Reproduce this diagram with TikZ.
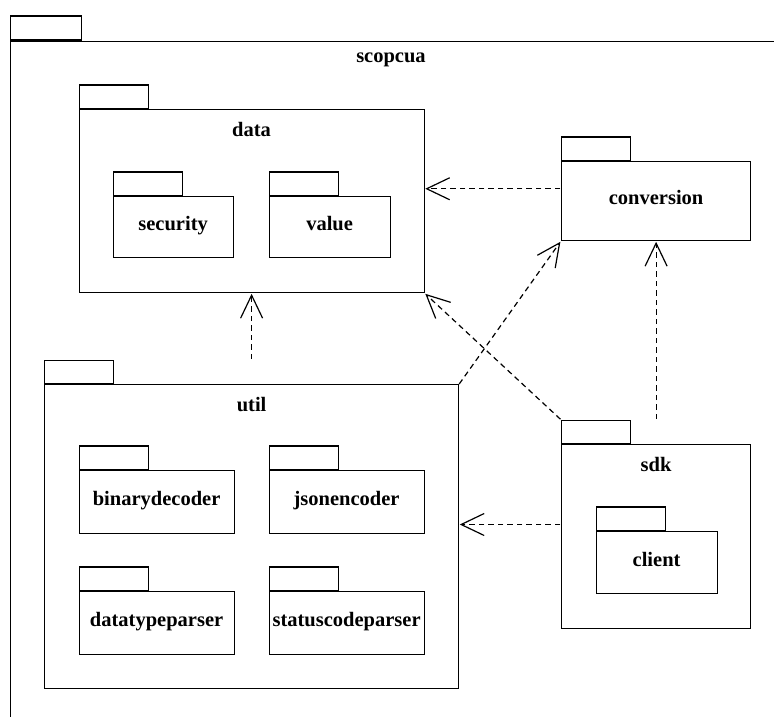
\documentclass[tikz,border=0pt]{standalone}
\usepackage{fontspec}
\setmainfont{Liberation Serif}
\usetikzlibrary{arrows.meta,positioning,fit}
\tikzstyle{dep} = [line width=1.2pt,dash pattern=on 5.5pt off 4pt,-{Straight Barb[length=23pt,width=22pt]}]

\begin{document}
\begin{tikzpicture}[x=1pt,y=-1pt,line width=1.2pt,
    every node/.style={font=\bfseries\fontsize{20.5}{24}\selectfont,inner sep=0pt},
    pkg/.style={draw,rectangle,anchor=north west,align=center,text height=14pt,text depth=7pt},
    pkgtab/.style={draw,rectangle,minimum width=69pt,minimum height=23.5pt,above right=0pt and 0pt of #1.north west},
    pkgname/.style={below=12.7pt of #1.north}]
    \clip (0,0) rectangle (774,716);
    % create the nodes
    \node (scopcua)[pkg, minimum width=820pt, minimum height=720pt] at (9.5,40.5) {};
    \node (scopcuatab)[pkgtab=scopcua, minimum width=71pt, minimum height=24pt] {};
    \node (scopcualbl)[anchor=north] at (391,52) {scopcua};
    % data
    \node (data)[pkg, minimum width=345pt, minimum height=183pt] at (78.5,109) {};
    \node (datatab)[pkgtab=data] {};
    \node (datalbl)[pkgname=data] {data};
    \node (security)[pkg, minimum width=120pt, minimum height=61pt] at (112.5,196) {security};
    \node (securitytab)[pkgtab=security] {};
    \node (value)[pkg, minimum width=121pt, minimum height=61pt] at (268.5,196) {value};
    \node (valuetab)[pkgtab=value] {};
    \node (datapkg)[fit=(datatab)(data)] {};
    % conversion
    \node (conversion)[pkg, minimum width=189pt, minimum height=79pt] at (561,161) {conversion};
    \node (conversiontab)[pkgtab=conversion] {};
    \node (conversionpkg)[fit=(conversiontab)(conversion)] {};
    % util
    \node (util)[pkg, minimum width=414pt, minimum height=304pt] at (44,384) {};
    \node (utiltab)[pkgtab=util, minimum height=23pt] {};
    \node (utillbl)[pkgname=util] {util};
    \node (binarydecoder)[pkg, minimum width=155pt, minimum height=63pt] at (78.5,470) {binarydecoder};
    \node (binarydecodertab)[pkgtab=binarydecoder] {};
    \node (jsonencoder)[pkg, minimum width=155pt, minimum height=63pt] at (268.5,470) {jsonencoder};
    \node (jsonencodertab)[pkgtab=jsonencoder] {};
    \node (datatypeparser)[pkg, minimum width=155pt, minimum height=63pt] at (78.5,591) {datatypeparser};
    \node (datatypeparsertab)[pkgtab=datatypeparser] {};
    \node (statuscodeparser)[pkg, minimum width=155pt, minimum height=63pt] at (268.5,591) {statuscodeparser};
    \node (statuscodeparsertab)[pkgtab=statuscodeparser] {};
    \node (utilpkg)[fit=(utiltab)(util)] {};
    % sdk
    \node (sdk)[pkg, minimum width=189pt, minimum height=184pt] at (561,444) {};
    \node (sdktab)[pkgtab=sdk, minimum height=23pt] {};
    \node (sdklbl)[pkgname=sdk] {sdk};
    \node (client)[pkg, minimum width=121pt, minimum height=62pt] at (595.5,531) {client};
    \node (clienttab)[pkgtab=client] {};
    \node (sdkpkg)[fit=(sdktab)(sdk)] {};
    % connect the nodes
    \draw[dep] (conversionpkg) -- (datapkg);
    \draw[dep] (utilpkg) -- (datapkg);
    \draw[dep] (util.north east) -- (conversionpkg.south west);
    \draw[dep] (sdkpkg.north west) -- (datapkg.south east);
    \draw[dep] (sdkpkg) -- (conversionpkg);
    \draw[dep] (sdkpkg) -- (utilpkg);
\end{tikzpicture}
\end{document}
